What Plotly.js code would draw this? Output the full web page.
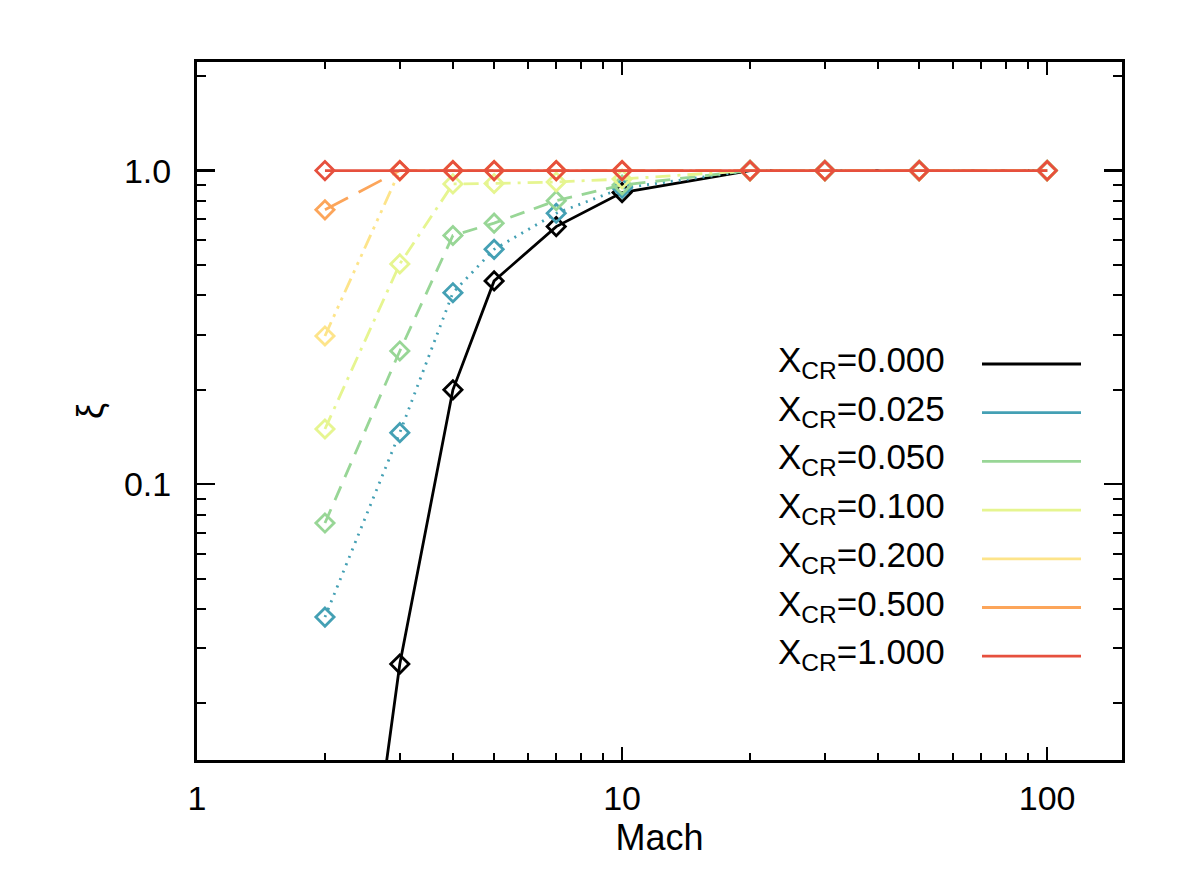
<!DOCTYPE html>
<html>
<head>
<meta charset="utf-8">
<script src="https://cdn.plot.ly/plotly-3.0.1.min.js"></script>
<style>
  html, body { margin: 0; padding: 0; background: #fff; }
  #chart { width: 1180px; height: 886px; }
</style>
</head>
<body>
<div id="chart"></div>
<script>
// Mach numbers of the shock models
const mach = [2, 3, 4, 5, 7, 10, 20, 30, 50, 100];

// Efficiency xi for each cosmic-ray fraction X_CR
const xcrLabels = ['0.000', '0.025', '0.050', '0.100', '0.200', '0.500', '1.000'];
const xi000 = [0.00047, 0.0267, 0.200, 0.445, 0.663, 0.851, 1.0, 1.0, 1.0, 1.0];
const xi025 = [0.0377, 0.146, 0.408, 0.561, 0.731, 0.879, 1.0, 1.0, 1.0, 1.0];
const xi050 = [0.0752, 0.266, 0.621, 0.680, 0.802, 0.900, 1.0, 1.0, 1.0, 1.0];
const xi100 = [0.150, 0.504, 0.907, 0.910, 0.920, 0.940, 1.0, 1.0, 1.0, 1.0];
const xi200 = [0.297, 1.0, 1.0, 1.0, 1.0, 1.0, 1.0, 1.0, 1.0, 1.0];
const xi500 = [0.750, 1.0, 1.0, 1.0, 1.0, 1.0, 1.0, 1.0, 1.0, 1.0];
const xi1000 = [1.0, 1.0, 1.0, 1.0, 1.0, 1.0, 1.0, 1.0, 1.0, 1.0];

const series = [xi000, xi025, xi050, xi100, xi200, xi500, xi1000];
const colors = ['#000000', '#44a0b4', '#98d696', '#e6f590', '#fde48a', '#fca55a', '#e6503e'];
const dashes = [
  'solid',
  '2px,6px',
  '15px,10px',
  '15px,7px,3px,7px',
  '15px,6px,3px,6px,3px,6px,3px,6px',
  '26px,12px',
  'solid'
];

// Axis tick positions
const xMajor = [1, 10, 100];
const xMajorText = ['1', '10', '100'];
const xMinor = [2, 3, 4, 5, 6, 7, 8, 9, 20, 30, 40, 50, 60, 70, 80, 90];
const yMajor = [0.1, 1];
const yMajorText = ['0.1', '1.0'];
const yMinor = [0.02, 0.03, 0.04, 0.05, 0.06, 0.07, 0.08, 0.09, 0.2, 0.3, 0.4, 0.5, 0.6, 0.7, 0.8, 0.9, 2];

const traces = series.map((ys, i) => ({
  type: 'scatter',
  mode: 'lines+markers',
  x: mach,
  y: ys,
  name: 'X<sub>CR</sub>=' + xcrLabels[i],
  showlegend: false,
  line: { color: colors[i], width: 2.8, dash: dashes[i] },
  marker: { symbol: 'diamond-open', size: 14, color: colors[i], line: { color: colors[i], width: 2.8 } }
}));

// Key: label on the left, line sample on the right
const keyTop = 362, keyStep = 48.7;
const plotL = 197, plotR = 1122, plotT = 62, plotB = 760;
const W = 1180, H = 886;

const family = 'Liberation Sans, Arial, Helvetica, sans-serif';
const annotations = [];
const shapes = [];
xcrLabels.forEach((lab, i) => {
  const y = keyTop + i * keyStep;
  annotations.push({
    xref: 'paper', yref: 'paper',
    x: (776 - plotL) / (plotR - plotL),
    y: (plotB - y) / (plotB - plotT),
    xanchor: 'left', yanchor: 'middle',
    text: 'X<sub>CR</sub>=' + lab,
    showarrow: false,
    font: { family: family, size: 35, color: '#000' }
  });
  shapes.push({
    type: 'line', xref: 'paper', yref: 'paper',
    x0: (982 - plotL) / (plotR - plotL), x1: (1081 - plotL) / (plotR - plotL),
    y0: (plotB - y - 2) / (plotB - plotT), y1: (plotB - y - 2) / (plotB - plotT),
    line: { color: colors[i], width: 2.8 }
  });
});

const tickFont = { family: family, size: 34, color: '#000' };
const titleFont = { family: family, size: 36, color: '#000' };

const layout = {
  width: W, height: H,
  margin: { l: plotL, r: W - plotR, t: plotT, b: H - plotB },
  paper_bgcolor: '#fff', plot_bgcolor: '#fff',
  font: tickFont,
  xaxis: {
    type: 'log',
    range: [0, Math.log10(150)],
    tickmode: 'array', tickvals: xMajor, ticktext: xMajorText,
    ticks: 'inside', ticklen: 13, tickwidth: 2.5, tickcolor: '#000',
    minor: { tickmode: 'array', tickvals: xMinor, ticks: 'inside', ticklen: 7, tickwidth: 2, tickcolor: '#000', showgrid: false },
    showline: true, linecolor: '#000', linewidth: 3, mirror: 'allticks',
    showgrid: false, zeroline: false,
    tickfont: tickFont,
    ticklabelstandoff: 6,
    title: { text: 'Mach', font: titleFont, standoff: 0 }
  },
  yaxis: {
    type: 'log',
    range: [Math.log10(0.0132), Math.log10(2.22)],
    tickmode: 'array', tickvals: yMajor, ticktext: yMajorText,
    ticks: 'inside', ticklen: 18, tickwidth: 2.5, tickcolor: '#000',
    minor: { tickmode: 'array', tickvals: yMinor, ticks: 'inside', ticklen: 9, tickwidth: 2, tickcolor: '#000', showgrid: false },
    showline: true, linecolor: '#000', linewidth: 3, mirror: 'allticks',
    showgrid: false, zeroline: false,
    tickfont: tickFont,
    ticklabelstandoff: 16,
    title: { text: 'ξ', font: titleFont, standoff: 10 }
  },
  annotations: annotations,
  shapes: shapes
};

Plotly.newPlot('chart', traces, layout, { displayModeBar: false, staticPlot: true });
</script>
</body>
</html>
